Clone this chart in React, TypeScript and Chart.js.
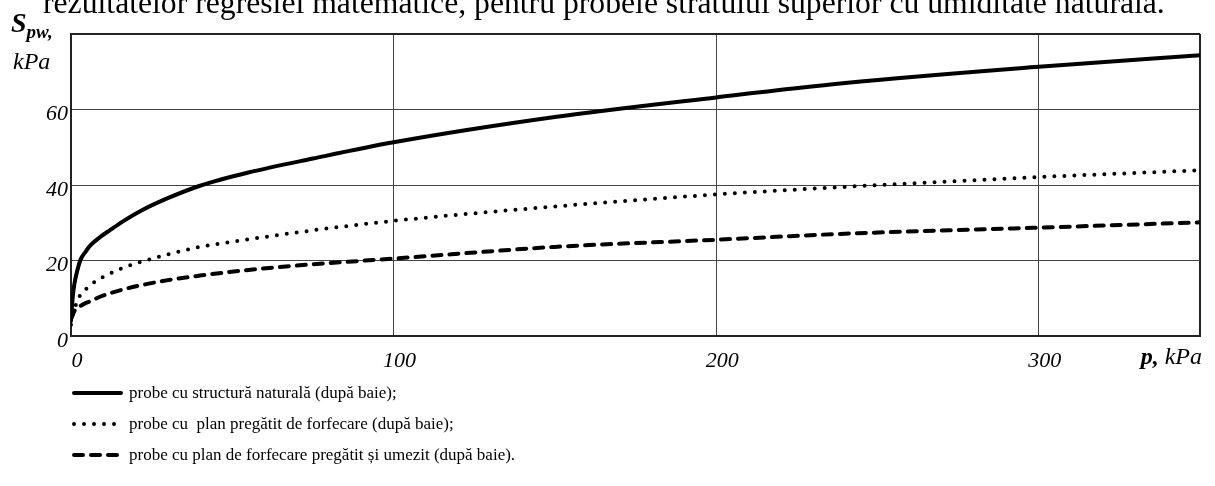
import React, { useEffect, useRef } from "react";
import { Chart, registerables } from "chart.js";

Chart.register(...registerables);

// ---- data ----
const pValues = [0, 0.5, 1, 2, 3, 4.5, 6, 9, 12, 16, 22, 30, 40, 55, 75, 100, 150, 200, 240, 300, 350];
const naturalStructure = [4, 10, 13.5, 17.5, 20.3, 22.3, 24, 26.2, 28, 30.3, 33.3, 36.5, 39.8, 43.3, 47, 51.3, 58, 63.2, 67, 71.3, 74.4];
const preparedPlane = [3, 5.5, 7, 9.3, 11, 12.3, 13.5, 15.2, 16.5, 18, 19.7, 21.6, 23.6, 25.6, 28, 30.5, 34.3, 37.5, 39.5, 42.1, 43.9];
const preparedWetPlane = [4.5, 5.5, 6.5, 7.4, 8, 8.7, 9.2, 10.4, 11.3, 12.3, 13.5, 14.8, 16, 17.5, 19, 20.5, 23.6, 25.5, 27.1, 28.7, 30.1];

const xTicks = [0, 100, 200, 300, 350];
const xTickLabels = ["0", "100", "200", "300", ""];
const yTicks = [0, 20, 40, 60, 80];
const yTickLabels = ["0", "20", "40", "60", ""];

const seriesLabels = [
  "probe cu structură naturală (după baie);",
  "probe cu  plan pregătit de forfecare (după baie);",
  "probe cu plan de forfecare pregătit și umezit (după baie).",
];
const titleText =
  "rezultatelor regresiei matematice, pentru probele stratului superior cu umiditate naturală.";

const SERIF = '"Liberation Serif", "Times New Roman", serif';

const textPlugin = {
  id: "textPlugin",
  afterDraw(chart: any) {
    const ctx: CanvasRenderingContext2D = chart.ctx;
    const area = chart.chartArea;
    ctx.save();
    ctx.fillStyle = "#000";
    ctx.textAlign = "left";
    ctx.textBaseline = "alphabetic";

    // clipped heading line from the page above
    ctx.font = `31.7px ${SERIF}`;
    ctx.fillText(titleText, 43, 13);

    // y axis title: S_pw, kPa
    ctx.font = `bold italic 28px ${SERIF}`;
    ctx.fillText("S", 11, 32);
    const sw = ctx.measureText("S").width;
    ctx.font = `bold italic 19px ${SERIF}`;
    ctx.fillText("pw,", 11 + sw, 38);
    ctx.font = `italic 24px ${SERIF}`;
    ctx.fillText("kPa", 13, 69);

    // x axis title: p, kPa
    ctx.font = `italic 24px ${SERIF}`;
    const kw = ctx.measureText(" kPa").width;
    ctx.font = `bold italic 24px ${SERIF}`;
    const pw = ctx.measureText("p,").width;
    const xEnd = area.right + 2;
    ctx.fillText("p,", xEnd - kw - pw, 364);
    ctx.font = `italic 24px ${SERIF}`;
    ctx.fillText(" kPa", xEnd - kw, 364);

    // legend (vertical list)
    const rows = [393, 424, 455];
    chart.data.datasets.forEach((ds: any, i: number) => {
      const y = rows[i];
      ctx.save();
      ctx.strokeStyle = ds.borderColor;
      ctx.lineWidth = ds.borderWidth;
      ctx.lineCap = ds.borderCapStyle || "butt";
      ctx.setLineDash(ds.borderDash || []);
      ctx.beginPath();
      ctx.moveTo(74, y);
      ctx.lineTo(121, y);
      ctx.stroke();
      ctx.restore();
      ctx.font = `17px ${SERIF}`;
      ctx.textBaseline = "middle";
      ctx.fillText(ds.label, 129, y + 1);
    });
    ctx.restore();
  },
};

export default function App() {
  const canvasRef = useRef<HTMLCanvasElement>(null);

  useEffect(() => {
    document.body.style.margin = "0";
    const canvas = canvasRef.current;
    if (!canvas) return;
    const mk = (arr: number[]) => pValues.map((p, i) => ({ x: p, y: arr[i] }));
    const edgeWidth = (c: any) => (c.index === 4 ? 2 : 1);
    const edgeColor = (c: any) => (c.index === 4 ? "#222" : "#444");
    const chart = new Chart(canvas, {
      type: "line",
      data: {
        datasets: [
          {
            label: seriesLabels[0],
            data: mk(naturalStructure),
            borderColor: "#000",
            borderWidth: 4,
            borderCapStyle: "round",
            pointRadius: 0,
            cubicInterpolationMode: "monotone",
          },
          {
            label: seriesLabels[1],
            data: mk(preparedPlane),
            borderColor: "#000",
            borderWidth: 4,
            borderDash: [0, 10],
            borderCapStyle: "round",
            pointRadius: 0,
            cubicInterpolationMode: "monotone",
          },
          {
            label: seriesLabels[2],
            data: mk(preparedWetPlane),
            borderColor: "#000",
            borderWidth: 4,
            borderDash: [9, 8],
            borderCapStyle: "round",
            pointRadius: 0,
            cubicInterpolationMode: "monotone",
          },
        ],
      },
      options: {
        responsive: false,
        animation: false,
        layout: { padding: { top: 34, right: 15, left: 0, bottom: 0 } },
        plugins: {
          legend: { display: false },
          tooltip: { enabled: false },
          title: { display: false },
        },
        scales: {
          x: {
            type: "linear",
            min: 0,
            max: 350,
            afterBuildTicks: (axis: any) => {
              axis.ticks = xTicks.map((v) => ({ value: v }));
            },
            afterFit: (axis: any) => {
              axis.height = 150;
            },
            grid: { color: edgeColor, lineWidth: edgeWidth, drawTicks: false },
            border: { color: "#222", width: 2 },
            ticks: {
              padding: 12,
              labelOffset: 6,
              maxRotation: 0,
              color: "#000",
              font: { family: SERIF, size: 22, style: "italic" },
              callback: (_v: any, i: number) => xTickLabels[i],
            },
          },
          y: {
            type: "linear",
            min: 0,
            max: 80,
            afterBuildTicks: (axis: any) => {
              axis.ticks = yTicks.map((v) => ({ value: v }));
            },
            afterFit: (axis: any) => {
              axis.width = 71;
            },
            grid: { color: edgeColor, lineWidth: edgeWidth, drawTicks: false },
            border: { color: "#222", width: 2 },
            ticks: {
              padding: 3,
              labelOffset: 5,
              color: "#000",
              font: { family: SERIF, size: 22, style: "italic" },
              callback: (_v: any, i: number) => yTickLabels[i],
            },
          },
        },
      },
      plugins: [textPlugin],
    } as any);
    return () => chart.destroy();
  }, []);

  return (
    <div style={{ position: "fixed", left: 0, top: 0, width: 1215, height: 486, background: "#fff" }}>
      <canvas ref={canvasRef} width={1215} height={486} style={{ display: "block" }} />
    </div>
  );
}
